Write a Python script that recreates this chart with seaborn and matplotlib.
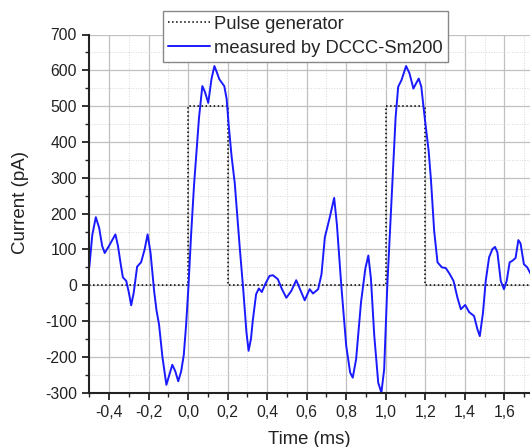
import pandas as pd
import numpy as np
import matplotlib
matplotlib.use("Agg")
import matplotlib.pyplot as plt
import seaborn as sns
from matplotlib.ticker import MultipleLocator, FuncFormatter

# Pulse generator (ideal steps)
pulse_t = [-0.5, 0.0, 0.0, 0.2, 0.2, 1.0, 1.0, 1.2, 1.2, 1.75]
pulse_i = [0, 0, 500, 500, 0, 0, 500, 500, 0, 0]

meas_t = [-0.500, -0.485, -0.467, -0.450, -0.435, -0.422, -0.400, -0.380, -0.368, -0.355,
          -0.340, -0.330, -0.313, -0.300, -0.288, -0.275, -0.258, -0.238, -0.220, -0.205,
          -0.190, -0.172, -0.160, -0.147, -0.130, -0.110, -0.095, -0.080, -0.065, -0.050,
          -0.035, -0.022, -0.010, 0.002, 0.015, 0.030, 0.055, 0.072, 0.085, 0.102,
          0.118, 0.133, 0.145, 0.158, 0.183, 0.195, 0.205, 0.220, 0.236, 0.262,
          0.279, 0.295, 0.306, 0.318, 0.327, 0.344, 0.358, 0.373, 0.390, 0.412,
          0.429, 0.454, 0.475, 0.497, 0.522, 0.547, 0.570, 0.590, 0.615, 0.632,
          0.658, 0.675, 0.692, 0.717, 0.739, 0.753, 0.775, 0.800, 0.820, 0.833,
          0.850, 0.875, 0.897, 0.912, 0.925, 0.942, 0.962, 0.978, 0.992, 1.008,
          1.033, 1.050, 1.063, 1.080, 1.103, 1.120, 1.140, 1.153, 1.167, 1.180,
          1.197, 1.217, 1.229, 1.245, 1.262, 1.284, 1.304, 1.324, 1.343, 1.363,
          1.380, 1.402, 1.422, 1.447, 1.464, 1.476, 1.492, 1.506, 1.523, 1.540,
          1.553, 1.565, 1.582, 1.598, 1.612, 1.627, 1.640, 1.657, 1.671, 1.682,
          1.699, 1.716, 1.735]
meas_i = [50, 140, 190, 160, 110, 90, 110, 130, 142, 110,
          55, 22, 12, -20, -56, -20, 52, 64, 100, 142,
          90, -16, -70, -110, -200, -278, -250, -222, -240, -268,
          -240, -195, -110, 0, 140, 280, 467, 556, 540, 509,
          575, 612, 595, 575, 556, 520, 449, 360, 285, 100,
          -12, -130, -183, -150, -100, -25, -9, -19, 3, 26,
          28, 17, -11, -35, -16, 14, -16, -42, -11, -23,
          -11, 31, 134, 190, 244, 169, 0, -169, -244, -258,
          -207, -47, 47, 83, 19, -141, -272, -300, -235, 0,
          282, 469, 554, 573, 612, 592, 549, 563, 577, 554,
          469, 376, 293, 152, 64, 50, 48, 31, 12, -35,
          -67, -55, -75, -86, -123, -142, -77, 12, 78, 101,
          107, 92, 12, -11, 12, 64, 68, 76, 126, 117,
          59, 50, 30]

df_pulse = pd.DataFrame({'Time': pulse_t, 'Current': pulse_i})
df_meas = pd.DataFrame({'Time': meas_t, 'Current': meas_i})

sns.set_style("white")
plt.rcParams['font.family'] = ['Liberation Sans', 'DejaVu Sans']

fig = plt.figure(figsize=(5.3, 4.47), dpi=100)
ax = fig.add_axes([89.3 / 530, 1 - 392.7 / 447, 1 - 89.3 / 530, (392.7 - 34.5) / 447])

sns.lineplot(data=df_pulse, x='Time', y='Current', ax=ax, sort=False, estimator=None,
             color='black', linestyle=':', linewidth=1.1, label='Pulse generator')
sns.lineplot(data=df_meas, x='Time', y='Current', ax=ax, sort=False, estimator=None,
             color='#1a1aff', linewidth=1.4, label='measured by DCCC-Sm200')

ax.set_xlim(-0.5, 1.73)
ax.set_ylim(-300, 700)

ax.xaxis.set_major_locator(MultipleLocator(0.2))
ax.xaxis.set_minor_locator(MultipleLocator(0.1))
ax.yaxis.set_major_locator(MultipleLocator(100))
ax.yaxis.set_minor_locator(MultipleLocator(50))
ax.xaxis.set_major_formatter(FuncFormatter(lambda v, p: f"{v:.1f}".replace('.', ',').replace('-0,0', '0,0')))
ax.yaxis.set_major_formatter(FuncFormatter(lambda v, p: f"{v:.0f}"))

ax.grid(True, which='major', color='#c0c0c0', linewidth=0.9)
ax.grid(True, which='minor', color='#d8d8d8', linewidth=0.7, linestyle=':')
ax.set_axisbelow(True)

for side in ['top', 'right']:
    ax.spines[side].set_visible(False)
for side in ['left', 'bottom']:
    ax.spines[side].set_color('#222222')
    ax.spines[side].set_linewidth(1.5)

ax.tick_params(which='major', direction='out', length=5, width=1.3, color='#222222',
               labelsize=11.3, labelcolor='#222222', left=True, bottom=True, pad=4)
ax.tick_params(which='minor', direction='out', length=3, width=1.0, color='#222222',
               left=True, bottom=True)

ax.set_xlabel('Time (ms)', fontsize=13.3, color='#222222', labelpad=8)
ax.set_ylabel('Current (pA)', fontsize=13.5, color='#222222')
ax.yaxis.set_label_coords(-0.137, 0.53)

leg = ax.legend(loc='upper left', bbox_to_anchor=(163 / 530, 1 - 11 / 447),
                bbox_transform=fig.transFigure, fontsize=13.2, frameon=True, fancybox=False,
                framealpha=1, edgecolor='#888888', handlelength=2.3, handletextpad=0.25,
                borderpad=0.25, labelspacing=0.4, borderaxespad=0)
leg.get_frame().set_linewidth(1.0)

plt.savefig('out.png', dpi=100)
